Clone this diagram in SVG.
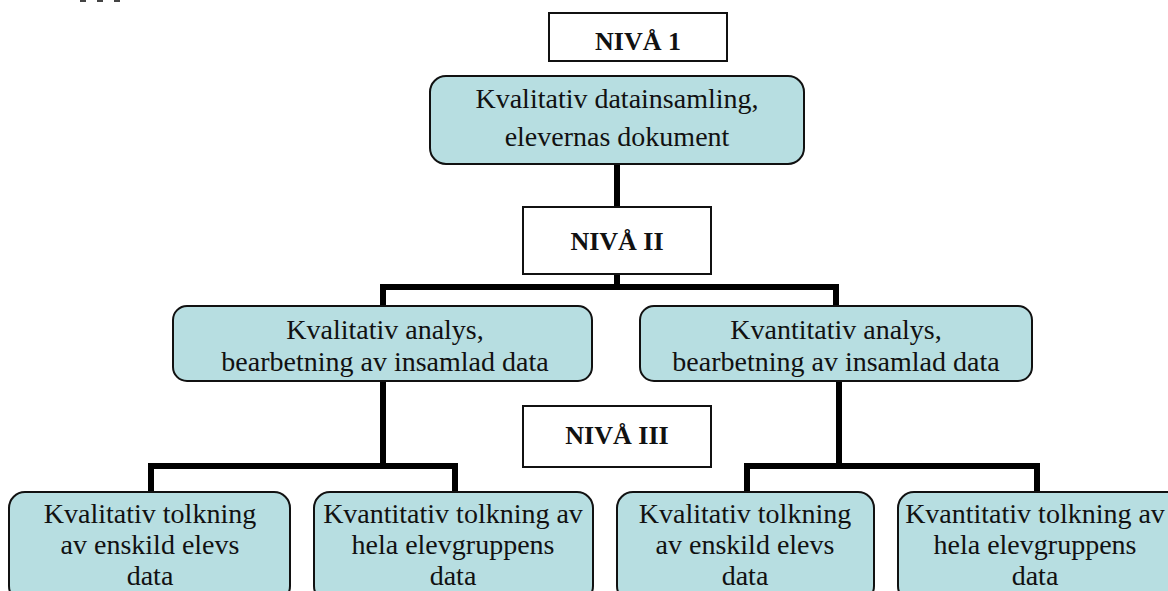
<svg xmlns="http://www.w3.org/2000/svg" width="1168" height="591" viewBox="0 0 1168 591">
<style>
.node{fill:#B7DEE1;stroke:#111;stroke-width:2}
.lvl{fill:#fff;stroke:#111;stroke-width:2}
.t{font-family:"Liberation Serif","Times New Roman",serif;font-size:28px;fill:#111;text-anchor:middle}
.b{font-family:"Liberation Serif","Times New Roman",serif;font-size:26px;font-weight:bold;fill:#111;text-anchor:middle}
.c{stroke:#000;stroke-width:6;fill:none;stroke-linecap:square}
</style>
<rect width="1168" height="591" fill="#fff"/>
<g id="fragments" fill="#444">
<rect x="80" y="0" width="6" height="2"/>
<rect x="97" y="0" width="6" height="2"/>
<rect x="114" y="0" width="6" height="2"/>
</g>
<g id="connectors">
<path class="c" d="M617 164V287M383 287H836M383 287V306M836 287V306"/>
<path class="c" d="M383 381V466M151 466H455M151 466V492M455 466V492"/>
<path class="c" d="M839 381V466M747 466H1037M747 466V492M1037 466V492"/>
</g>
<g id="level1-label"><rect class="lvl" x="549" y="13" width="178" height="48"/><text class="b" x="638" y="50">NIVÅ 1</text></g>
<g id="n1"><rect class="node" x="430" y="76" width="374" height="88" rx="16"/><text class="t" x="617" y="108">Kvalitativ datainsamling,</text><text class="t" x="617" y="146">elevernas dokument</text></g>
<g id="level2-label"><rect class="lvl" x="523" y="207" width="188" height="67"/><text class="b" x="617" y="250">NIVÅ II</text></g>
<g id="n2a"><rect class="node" x="173" y="306" width="419" height="75" rx="14"/><text class="t" x="385" y="339">Kvalitativ analys,</text><text class="t" x="385" y="371">bearbetning av insamlad data</text></g>
<g id="n2b"><rect class="node" x="640" y="306" width="392" height="75" rx="14"/><text class="t" x="836" y="339">Kvantitativ analys,</text><text class="t" x="836" y="371">bearbetning av insamlad data</text></g>
<g id="level3-label"><rect class="lvl" x="523" y="406" width="188" height="61"/><text class="b" x="617" y="444">NIVÅ III</text></g>
<g id="n3a"><rect class="node" x="9" y="492" width="281" height="110" rx="16"/><text class="t" x="150" y="523">Kvalitativ tolkning</text><text class="t" x="150" y="554">av enskild elevs</text><text class="t" x="150" y="585">data</text></g>
<g id="n3b"><rect class="node" x="314" y="492" width="279" height="110" rx="16"/><text class="t" x="453" y="523">Kvantitativ tolkning av</text><text class="t" x="453" y="554">hela elevgruppens</text><text class="t" x="453" y="585">data</text></g>
<g id="n3c"><rect class="node" x="617" y="492" width="257" height="110" rx="16"/><text class="t" x="745" y="523">Kvalitativ tolkning</text><text class="t" x="745" y="554">av enskild elevs</text><text class="t" x="745" y="585">data</text></g>
<g id="n3d"><rect class="node" x="898" y="492" width="290" height="110" rx="16"/><text class="t" x="1035" y="523">Kvantitativ tolkning av</text><text class="t" x="1035" y="554">hela elevgruppens</text><text class="t" x="1035" y="585">data</text></g>
</svg>
